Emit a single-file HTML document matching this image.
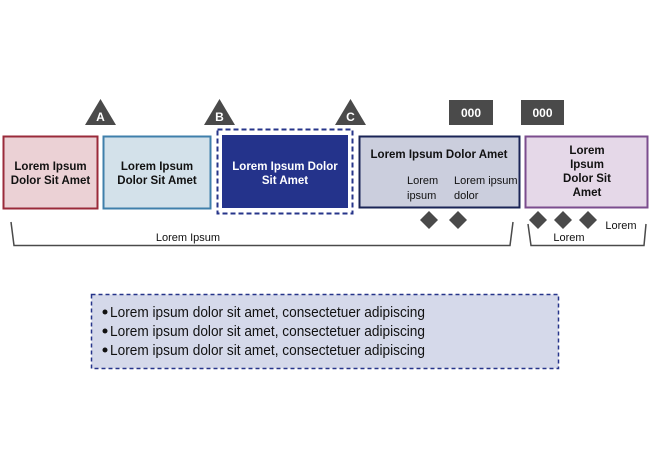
<!DOCTYPE html>
<html><head><meta charset="utf-8"><style>
html,body{margin:0;padding:0;background:#fff;}
svg{display:block;}
text{font-family:"Liberation Sans",sans-serif;}
</style></head><body>
<svg width="653" height="468" viewBox="0 0 653 468" xmlns="http://www.w3.org/2000/svg">
<polygon points="100.5,99 85,125 116,125" fill="#4a4a4a"/>
<text x="100.5" y="121" font-size="12" font-weight="bold" fill="#fff" text-anchor="middle">A</text>
<polygon points="219.5,99 204,125 235,125" fill="#4a4a4a"/>
<text x="219.5" y="121" font-size="12" font-weight="bold" fill="#fff" text-anchor="middle">B</text>
<polygon points="350.5,99 335,125 366,125" fill="#4a4a4a"/>
<text x="350.5" y="121" font-size="12" font-weight="bold" fill="#fff" text-anchor="middle">C</text>
<rect x="449" y="100" width="44" height="25" fill="#4a4a4a"/>
<text x="471" y="117" font-size="12" font-weight="bold" fill="#fff" text-anchor="middle">000</text>
<rect x="521" y="100" width="43" height="25" fill="#4a4a4a"/>
<text x="542.5" y="117" font-size="12" font-weight="bold" fill="#fff" text-anchor="middle">000</text>
<rect x="3.5" y="136.5" width="94" height="72" fill="#ebd1d5" stroke="#9a2a3a" stroke-width="2"/>
<text font-size="11.5" font-weight="bold" fill="#111" text-anchor="middle"><tspan x="50.5" y="170">Lorem Ipsum</tspan><tspan x="50.5" y="184">Dolor Sit Amet</tspan></text>
<rect x="103.5" y="136.5" width="107" height="72" fill="#d3e1ea" stroke="#3f7fab" stroke-width="2"/>
<text font-size="11.5" font-weight="bold" fill="#111" text-anchor="middle"><tspan x="157" y="170">Lorem Ipsum</tspan><tspan x="157" y="184">Dolor Sit Amet</tspan></text>
<rect x="217.5" y="129.5" width="135" height="84" fill="none" stroke="#26348a" stroke-width="2" stroke-dasharray="5,3"/>
<rect x="222" y="135" width="126" height="73" fill="#24338b"/>
<text font-size="11.5" font-weight="bold" fill="#fff" text-anchor="middle"><tspan x="285" y="170">Lorem Ipsum Dolor</tspan><tspan x="285" y="184">Sit Amet</tspan></text>
<rect x="359.5" y="136.5" width="160" height="71" fill="#cbcedd" stroke="#1a2456" stroke-width="2"/>
<text x="439" y="158" font-size="11.5" font-weight="bold" fill="#111" text-anchor="middle">Lorem Ipsum Dolor Amet</text>
<text font-size="11" fill="#111"><tspan x="407" y="184">Lorem</tspan><tspan x="407" y="199">ipsum</tspan></text>
<text font-size="11" fill="#111"><tspan x="454" y="184">Lorem ipsum</tspan><tspan x="454" y="199">dolor</tspan></text>
<rect x="525.5" y="136.5" width="122" height="71" fill="#e5d8e8" stroke="#7b4d8e" stroke-width="2"/>
<text font-size="11.5" font-weight="bold" fill="#111" text-anchor="middle"><tspan x="587" y="154">Lorem</tspan><tspan x="587" y="168">Ipsum</tspan><tspan x="587" y="182">Dolor Sit</tspan><tspan x="587" y="196">Amet</tspan></text>
<g fill="#4a4a4a">
<polygon points="429,211 438,220 429,229 420,220"/>
<polygon points="458,211 467,220 458,229 449,220"/>
<polygon points="538,211 547,220 538,229 529,220"/>
<polygon points="563,211 572,220 563,229 554,220"/>
<polygon points="588,211 597,220 588,229 579,220"/>
</g>
<polyline points="11,222 14,245.5 510,245.5 513,222" fill="none" stroke="#4a4a4a" stroke-width="1.5"/>
<text x="188" y="241" font-size="11" fill="#111" text-anchor="middle">Lorem Ipsum</text>
<polyline points="528,224 531,245.5 644,245.5 646,224" fill="none" stroke="#4a4a4a" stroke-width="1.5"/>
<text x="569" y="241" font-size="11" fill="#111" text-anchor="middle">Lorem</text>
<text x="621" y="229" font-size="11" fill="#111" text-anchor="middle">Lorem</text>
<rect x="91.5" y="294.5" width="467" height="74" fill="#d5d9ea" stroke="#26348a" stroke-width="1.5" stroke-dasharray="4,3"/>
<g font-size="15" fill="#111">
<circle cx="105" cy="312" r="2.5" fill="#111"/>
<text x="110" y="317" textLength="315" lengthAdjust="spacingAndGlyphs">Lorem ipsum dolor sit amet, consectetuer adipiscing</text>
<circle cx="105" cy="331" r="2.5" fill="#111"/>
<text x="110" y="336" textLength="315" lengthAdjust="spacingAndGlyphs">Lorem ipsum dolor sit amet, consectetuer adipiscing</text>
<circle cx="105" cy="350" r="2.5" fill="#111"/>
<text x="110" y="355" textLength="315" lengthAdjust="spacingAndGlyphs">Lorem ipsum dolor sit amet, consectetuer adipiscing</text>
</g>
</svg>
</body></html>
